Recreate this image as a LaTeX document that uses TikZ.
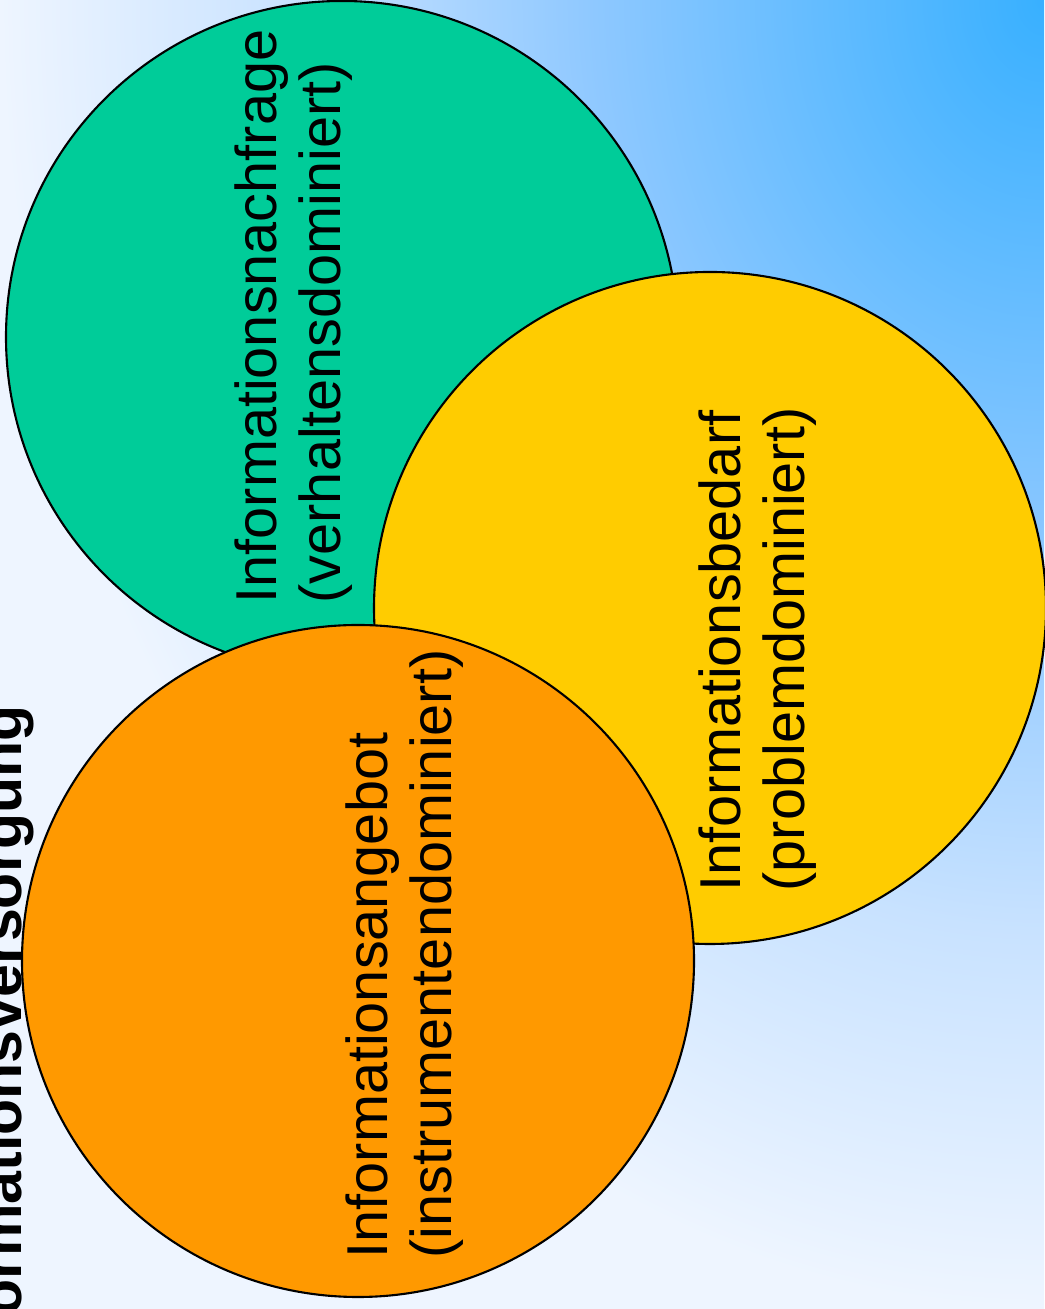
\documentclass[tikz,border=0pt]{standalone}
\usepackage{fontspec}
\setmainfont{Liberation Sans}
\usepackage{tikz}
\usetikzlibrary{calc}
\definecolor{bgA}{HTML}{38B0FF}
\definecolor{bgB}{HTML}{8EC8FF}
\definecolor{bgC}{HTML}{C8E2FF}
\definecolor{bgD}{HTML}{EEF5FF}
\definecolor{gruen}{HTML}{00CC99}
\definecolor{gelb}{HTML}{FFCC00}
\definecolor{orange}{HTML}{FF9900}
\pgfdeclareradialshading{bgglow}{\pgfpoint{0bp}{0bp}}{color(0bp)=(bgA); color(10.75bp)=(bgB); color(17.75bp)=(bgC); color(25bp)=(bgD); color(50bp)=(bgD)}

\begin{document}
\begin{tikzpicture}[
  blob/.style={circle,draw=black,line width=0.6pt,minimum size=6.72cm,inner sep=0pt},
  lbl/.style={rotate=90,anchor=base west,align=left,inner sep=0pt,font=\fontsize{16.4}{18.2}\selectfont}]
  \useasboundingbox (0,0) rectangle (10.44,13.09);
  % background
  \begin{scope}
    \clip (0,0) rectangle (10.44,13.09);
    \shade[shading=bgglow] (0,0) rectangle (20.88,26.18);
  \end{scope}
  % title, cut off at the page edge
  \node[rotate=90,anchor=base east,inner sep=0pt,font=\bfseries\fontsize{16.8}{20}\selectfont](titel)at(0.22,6.04){Informationsversorgung};
  % circles
  \node[blob,fill=gruen](nachfrage)at(3.42,9.72){};
  \node[blob,fill=gelb](bedarf)at(7.10,7.01){};
  \node[blob,fill=orange](angebot)at(3.58,3.48){};
  % labels (anchor on the baseline of the second line)
  \node[lbl](nachfragetxt)at(3.40,7.05){Informationsnachfrage\\(verhaltensdominiert)};
  \node[lbl](bedarftxt)at(8.04,4.17){Informationsbedarf\\(problemdominiert)};
  \node[lbl](angebottxt)at(4.51,0.50){Informationsangebot\\(instrumentendominiert)};
\end{tikzpicture}
\end{document}
